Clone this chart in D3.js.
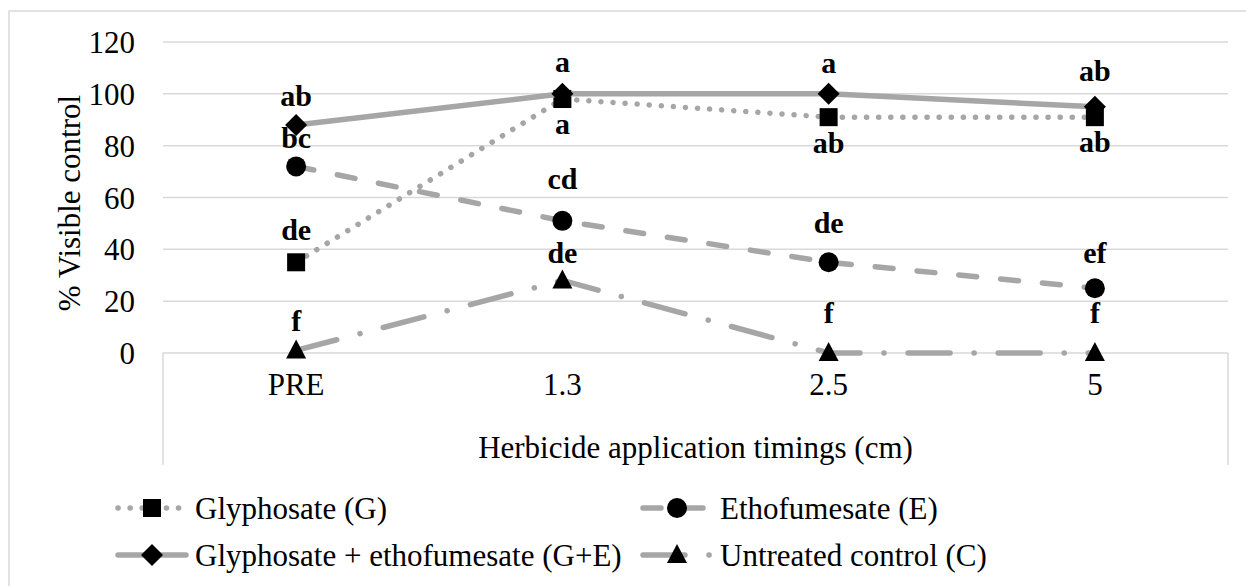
<!DOCTYPE html>
<html>
<head>
<meta charset="utf-8">
<script src="https://cdn.jsdelivr.net/npm/d3@7"></script>
<style>
body { margin: 0; background: #fff; }
</style>
</head>
<body>
<svg id="svg1" width="1246" height="586"></svg>
<script>
//data
var timings = ["PRE", "1.3", "2.5", "5"];
var yTicks = [0, 20, 40, 60, 80, 100, 120];
var seriesNames = ["Glyphosate (G)", "Ethofumesate (E)", "Glyphosate + ethofumesate (G+E)", "Untreated control (C)"];
var glyphosate = [35, 98, 91, 91];
var ethofumesate = [72, 51, 35, 25];
var glyEtho = [88, 100, 100, 95];
var untreated = [1, 28, 0, 0];
var glyLetters = ["de", "a", "ab", "ab"];
var ethoLetters = ["bc", "cd", "de", "ef"];
var glyEthoLetters = ["ab", "a", "a", "ab"];
var untreatedLetters = ["f", "de", "f", "f"];

//layout
var plotLeft = 163;
var plotRight = 1228;
var plotTop = 42;
var plotBottom = 353;
var fontFamily = "'Liberation Serif'";
var fontSize = 31;
var labelSize = 30;
var lineGrey = "#a6a6a6";
var gridGrey = "#d9d9d9";

//label baseline offsets from the point (px), placed by hand in the original
var labelOffsets = [
    [-22, 35, 36, 35],
    [-18, -32, -29, -25],
    [-19, -22, -21, -26],
    [-19, -17, -30, -30]
];

var series = [
    {name: seriesNames[0], values: glyphosate, letters: glyLetters, dash: "0.1 12", marker: "square"},
    {name: seriesNames[1], values: ethofumesate, letters: ethoLetters, dash: "18 24", marker: "circle"},
    {name: seriesNames[2], values: glyEtho, letters: glyEthoLetters, dash: null, marker: "diamond"},
    {name: seriesNames[3], values: untreated, letters: untreatedLetters, dash: "42 24 0.1 24", marker: "triangle"}
];

var svg = d3.select("#svg1");

//outer frame
svg.append("rect")
    .attr("x", 9).attr("y", 11)
    .attr("width", 1260).attr("height", 600)
    .style("fill", "none")
    .style("stroke", gridGrey)
    .style("stroke-width", 1.5);

//scales
var xScale = d3.scaleBand()
    .domain(timings)
    .range([plotLeft, plotRight]);

var yScale = d3.scaleLinear()
    .domain([0, 120])
    .range([plotBottom, plotTop]);

function xPos(i) {
    return xScale(timings[i]) + xScale.bandwidth() / 2;
}

//gridlines
svg.append("g")
    .selectAll("line")
    .data(yTicks)
    .enter()
    .append("line")
    .attr("x1", plotLeft)
    .attr("x2", plotRight)
    .attr("y1", function(d) { return yScale(d); })
    .attr("y2", function(d) { return yScale(d); })
    .style("stroke", gridGrey)
    .style("stroke-width", 1.5);

//side lines of the category axis box
svg.append("g")
    .selectAll("line")
    .data([plotLeft, plotRight])
    .enter()
    .append("line")
    .attr("x1", function(d) { return d; })
    .attr("x2", function(d) { return d; })
    .attr("y1", plotBottom)
    .attr("y2", 465)
    .style("stroke", gridGrey)
    .style("stroke-width", 1.5);

//y axis labels
var y_axis = d3.axisLeft(yScale).tickValues(yTicks).tickSize(0).tickPadding(28);
var yAxisG = svg.append("g")
    .attr("transform", "translate(" + plotLeft + ",0)")
    .attr("font-family", null)
    .call(y_axis);
yAxisG.select(".domain").remove();
yAxisG.selectAll("text")
    .style("font-family", fontFamily)
    .style("font-size", fontSize + "px")
    .style("fill", "#000")
    .attr("dy", "0.34em");

//x axis labels
var x_axis = d3.axisBottom(xScale).tickSize(0).tickPadding(20);
var xAxisG = svg.append("g")
    .attr("transform", "translate(0," + plotBottom + ")")
    .call(x_axis);
xAxisG.select(".domain").remove();
xAxisG.selectAll("text")
    .style("font-family", fontFamily)
    .style("font-size", fontSize + "px")
    .style("fill", "#000");

//axis titles
svg.append("text")
    .attr("x", (plotLeft + plotRight) / 2)
    .attr("y", 458)
    .attr("text-anchor", "middle")
    .style("font-family", fontFamily)
    .style("font-size", fontSize + "px")
    .text("Herbicide application timings (cm)");

svg.append("text")
    .attr("transform", "translate(80,203) rotate(-90)")
    .attr("text-anchor", "middle")
    .style("font-family", fontFamily)
    .style("font-size", fontSize + "px")
    .text("% Visible control");

//markers
function drawMarker(g, type, cx, cy) {
    if (type == "square") {
        g.append("rect")
            .attr("x", cx - 9).attr("y", cy - 9)
            .attr("width", 18).attr("height", 18)
            .style("fill", "#000");
    } else if (type == "circle") {
        g.append("circle")
            .attr("cx", cx).attr("cy", cy).attr("r", 10)
            .style("fill", "#000");
    } else if (type == "diamond") {
        g.append("path")
            .attr("d", "M" + cx + "," + (cy - 11) + "L" + (cx + 11) + "," + cy + "L" + cx + "," + (cy + 11) + "L" + (cx - 11) + "," + cy + "Z")
            .style("fill", "#000");
    } else if (type == "triangle") {
        g.append("path")
            .attr("d", "M" + cx + "," + (cy - 11) + "L" + (cx + 10) + "," + (cy + 8) + "L" + (cx - 10) + "," + (cy + 8) + "Z")
            .style("fill", "#000");
    }
}

var line = d3.line()
    .x(function(d, i) { return xPos(i); })
    .y(function(d) { return yScale(d); });

//series lines + markers
series.forEach(function(s) {
    var g = svg.append("g");
    var path = g.append("path")
        .attr("d", line(s.values))
        .style("fill", "none")
        .style("stroke", lineGrey)
        .style("stroke-width", 5.5)
        .style("stroke-linecap", "round")
        .style("stroke-linejoin", "round");
    if (s.dash) path.style("stroke-dasharray", s.dash);
    s.values.forEach(function(v, i) {
        drawMarker(g, s.marker, xPos(i), yScale(v));
    });
});

//significance letters
series.forEach(function(s, si) {
    svg.append("g")
        .selectAll("text")
        .data(s.values)
        .enter()
        .append("text")
        .attr("x", function(d, i) { return xPos(i); })
        .attr("y", function(d, i) { return yScale(d) + labelOffsets[si][i]; })
        .attr("text-anchor", "middle")
        .style("font-family", fontFamily)
        .style("font-size", labelSize + "px")
        .style("font-weight", "bold")
        .text(function(d, i) { return s.letters[i]; });
});

//legend
var legendX = [152, 677];
var legendY = [508, 555];
series.forEach(function(s, si) {
    var cx = legendX[si % 2];
    var cy = legendY[Math.floor(si / 2)];
    var g = svg.append("g");
    var l = g.append("line")
        .attr("x1", cx - 34).attr("x2", cx + 34)
        .attr("y1", cy).attr("y2", cy)
        .style("stroke", lineGrey)
        .style("stroke-width", 5.5)
        .style("stroke-linecap", "round");
    if (s.dash) l.style("stroke-dasharray", s.dash);
    drawMarker(g, s.marker, cx, cy);
    g.append("text")
        .attr("x", cx + 43)
        .attr("y", cy)
        .attr("dy", "0.34em")
        .style("font-family", fontFamily)
        .style("font-size", fontSize + "px")
        .text(s.name);
});
</script>
</body>
</html>
